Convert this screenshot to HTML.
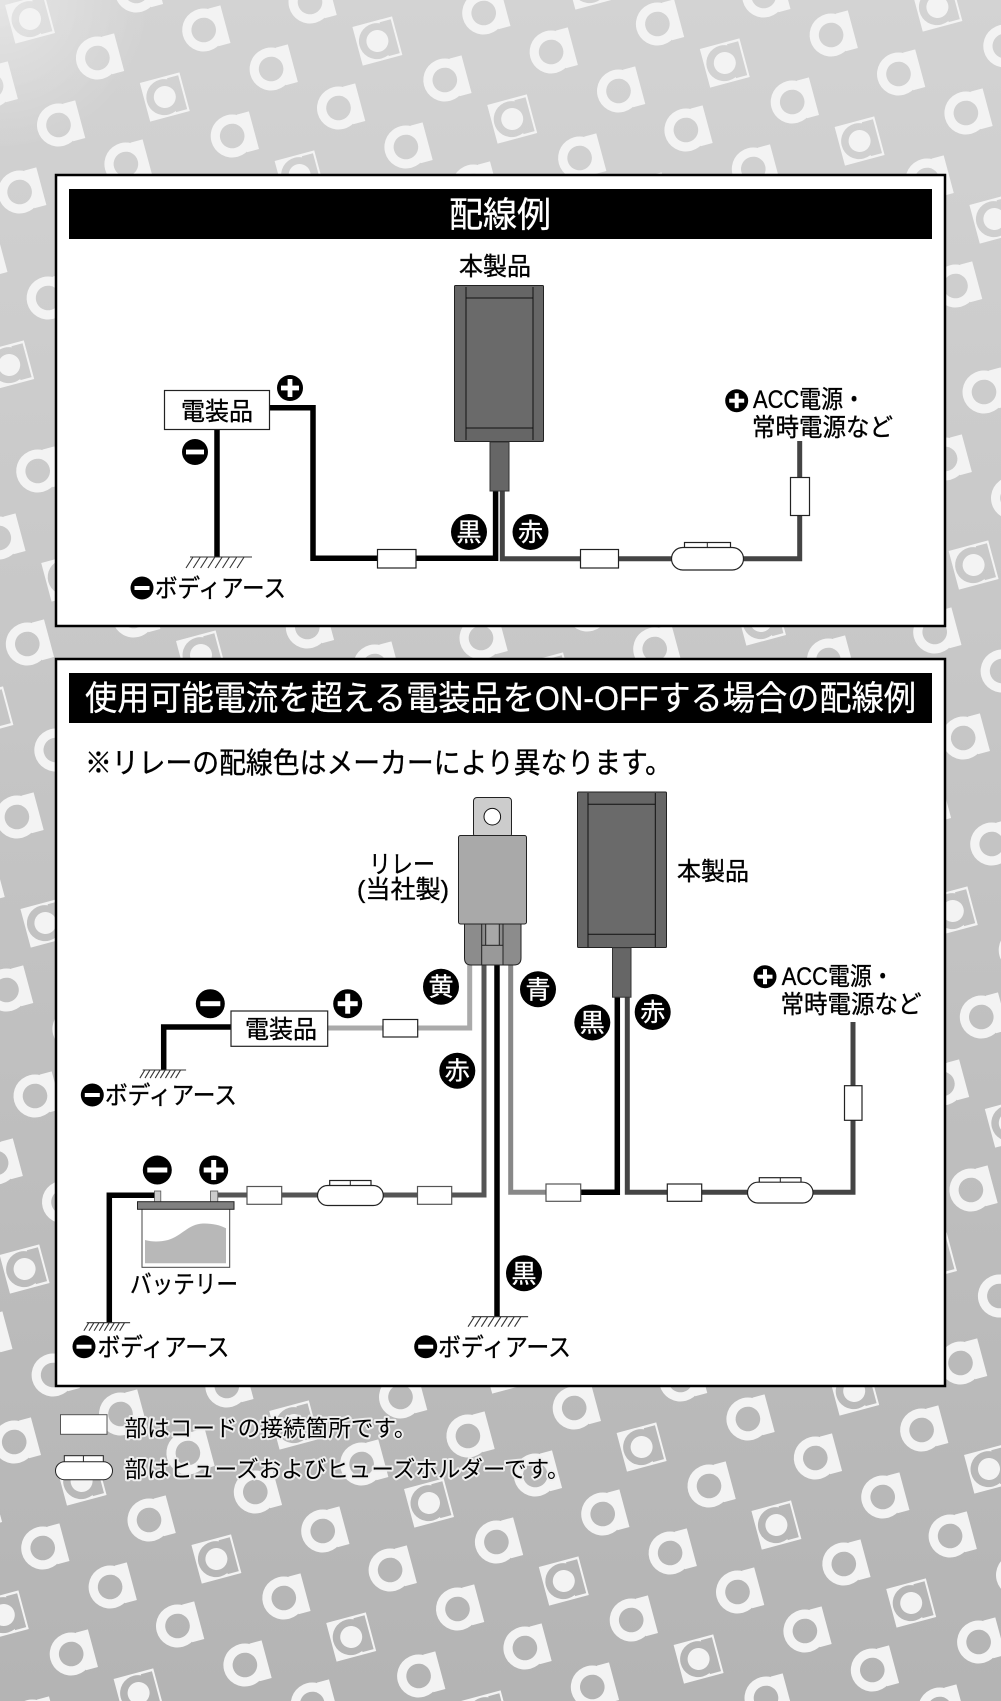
<!DOCTYPE html>
<html lang="ja">
<head>
<meta charset="utf-8">
<title>配線例</title>
<style>
html,body{margin:0;padding:0;background:#c4c4c4}
svg{display:block;position:absolute;left:0;top:0}
text{font-family:"Liberation Sans","Noto Sans CJK JP",sans-serif;fill:#000;stroke:#000;stroke-width:.35px}
text.wt{fill:#fff;stroke:#fff}
.bt{font-size:25px;text-anchor:middle}
text.halo{paint-order:stroke;stroke:#eee;stroke-width:4px;stroke-linejoin:round}
.wire{fill:none;stroke-linejoin:miter}
.box{fill:#fff;stroke:#222;stroke-width:1.2}
.grybox{fill:#fff;stroke:#555;stroke-width:1.2}
</style>
</head>
<body>
<svg xmlns="http://www.w3.org/2000/svg" width="1001" height="1701" viewBox="0 0 1001 1701">
<defs>
<linearGradient id="bg" x1="0" y1="0" x2="0" y2="1"><stop offset="0" stop-color="#d3d3d3"/><stop offset="1" stop-color="#b4b4b4"/></linearGradient>
<radialGradient id="glow" gradientUnits="userSpaceOnUse" cx="0" cy="0" r="150"><stop offset="0" stop-color="#fff" stop-opacity=".4"/><stop offset="1" stop-color="#fff" stop-opacity="0"/></radialGradient>
<g id="A" transform="rotate(-15)"><circle r="21.5" fill="#fff"/><rect x="10" y="-19.5" width="12.5" height="39" fill="#fff"/><circle r="12.3" fill="#000"/></g>
<g id="S" transform="rotate(-15)"><rect x="-20.5" y="-20" width="41" height="40" fill="#fff"/><circle cx="-.5" r="18" fill="#000"/><rect x="7" y="-17.5" width="11.5" height="35" fill="#000"/><circle r="11" fill="#fff"/></g>
<g id="c"><use href="#S"/><use href="#A" x="67.4" y="39"/><use href="#A" x="106.3" y="-28"/><use href="#A" x="173.7" y="11"/></g>
<g id="r">
<use href="#c" x="-134.8" y="-78"/><use href="#c"/><use href="#c" x="134.8" y="78"/><use href="#c" x="269.6" y="156"/><use href="#c" x="404.4" y="234"/><use href="#c" x="539.2" y="312"/><use href="#c" x="674" y="390"/><use href="#c" x="808.8" y="468"/><use href="#c" x="943.6" y="546"/><use href="#c" x="1078.4" y="624"/><use href="#c" x="1213.2" y="702"/><use href="#c" x="1348" y="780"/><use href="#c" x="1482.8" y="858"/><use href="#c" x="1617.6" y="936"/><use href="#c" x="1752.4" y="1014"/><use href="#c" x="1887.2" y="1092"/><use href="#c" x="2022" y="1170"/><use href="#c" x="2156.8" y="1248"/><use href="#c" x="2291.6" y="1326"/><use href="#c" x="2426.4" y="1404"/>
</g>
<mask id="m" maskUnits="userSpaceOnUse" x="0" y="0" width="1001" height="1701">
<g transform="translate(30 19)">
<use href="#r" x="-2126" y="560"/><use href="#r" x="-1913.4" y="504"/><use href="#r" x="-1700.8" y="448"/><use href="#r" x="-1488.2" y="392"/><use href="#r" x="-1275.6" y="336"/><use href="#r" x="-1063" y="280"/><use href="#r" x="-850.4" y="224"/><use href="#r" x="-637.8" y="168"/><use href="#r" x="-425.2" y="112"/><use href="#r" x="-212.6" y="56"/><use href="#r"/><use href="#r" x="212.6" y="-56"/><use href="#r" x="425.2" y="-112"/><use href="#r" x="637.8" y="-168"/><use href="#r" x="850.4" y="-224"/>
</g>
</mask>
<g id="pl13"><circle r="13" fill="#000"/><rect x="-9" y="-2.4" width="18" height="4.8" fill="#fff"/><rect x="-2.4" y="-9" width="4.8" height="18" fill="#fff"/></g>
<g id="mi13"><circle r="13" fill="#000"/><rect x="-9" y="-2.4" width="18" height="4.8" fill="#fff"/></g>
<g id="pl15"><circle r="14.5" fill="#000"/><rect x="-10" y="-2.5" width="20" height="5" fill="#fff"/><rect x="-2.5" y="-10" width="5" height="20" fill="#fff"/></g>
<g id="mi15"><circle r="14.5" fill="#000"/><rect x="-10" y="-2.5" width="20" height="5" fill="#fff"/></g>
<g id="pl11"><circle r="11.5" fill="#000"/><rect x="-7.5" y="-2" width="15" height="4" fill="#fff"/><rect x="-2" y="-7.5" width="4" height="15" fill="#fff"/></g>
<g id="mi11"><circle r="11.5" fill="#000"/><rect x="-7.5" y="-2" width="15" height="4" fill="#fff"/></g>
<path id="gnd" fill="none" stroke="#333" stroke-width="1.1" vector-effect="non-scaling-stroke" d="M0 0H62M-4 11L3 0M3.3 11L10.3 0M10.6 11L17.6 0M17.9 11L24.9 0M25.2 11L32.2 0M32.5 11L39.5 0M39.8 11L46.8 0M47.1 11L54.1 0"/>
<circle id="bd" r="18" fill="#000"/>
</defs>

<rect width="1001" height="1701" fill="url(#bg)"/>
<rect width="300" height="300" fill="url(#glow)"/>
<rect width="1001" height="1701" fill="#f3f3f3" mask="url(#m)"/>

<!-- Panel 1 -->
<rect x="56" y="175" width="889" height="451" fill="#fff" stroke="#000" stroke-width="2.5"/>
<rect x="69" y="189" width="863" height="50" fill="#000"/>
<text x="449" y="227" class="wt" font-size="35" textLength="102" lengthAdjust="spacingAndGlyphs">配線例</text>
<text x="459" y="275" font-size="25" textLength="72" lengthAdjust="spacingAndGlyphs">本製品</text>

<rect x="454.5" y="285.5" width="89" height="156" rx="1" fill="#666" stroke="#222" stroke-width="1"/>
<rect x="466" y="298" width="67" height="130" fill="#6a6a6a"/>
<path d="M466 287V440M533 287V440M466 298H533M466 428H533" fill="none" stroke="#111" stroke-width="1"/>
<path class="wire" stroke="#000" stroke-width="5.5" d="M269 407.7H313V558.3H498M495.6 491V561"/>
<path class="wire" stroke="#444" stroke-width="5" d="M502.3 491V558.7H799.7V441"/>
<rect x="490" y="442" width="19" height="49" fill="#666" stroke="#333" stroke-width="1"/>
<path class="wire" stroke="#000" stroke-width="5.5" d="M217 429V557"/>
<rect x="164.5" y="390.5" width="105" height="39" class="box"/>
<text x="181" y="420" font-size="25" textLength="72" lengthAdjust="spacingAndGlyphs">電装品</text>
<use href="#mi13" x="195" y="452"/>
<use href="#pl13" x="290" y="388"/>
<use href="#gnd" transform="translate(190 557)"/>
<rect x="377.5" y="549.5" width="38.5" height="18.5" class="box"/>
<use href="#bd" x="469" y="532"/><text x="469" y="541" class="bt wt">黒</text>
<use href="#bd" x="530.5" y="532"/><text x="530.5" y="541" class="bt wt">赤</text>
<use href="#mi11" x="142" y="588"/>
<text x="155" y="597" font-size="25" textLength="131" lengthAdjust="spacingAndGlyphs">ボディアース</text>
<rect x="580.5" y="549.5" width="38" height="18.5" class="box"/>
<rect x="684.5" y="542.5" width="46" height="6" class="box"/><path d="M707.3 542.5V548" stroke="#222"/>
<rect x="671.5" y="547.5" width="72" height="22.5" rx="11.2" class="box"/>
<rect x="790.5" y="477.5" width="19" height="38" class="box"/>
<use href="#pl11" x="736.7" y="400.7"/>
<text x="753" y="408" font-size="25" textLength="112" lengthAdjust="spacingAndGlyphs">ACC電源・</text>
<text x="752" y="436" font-size="25" textLength="141" lengthAdjust="spacingAndGlyphs">常時電源など</text>

<!-- Panel 2 -->
<rect x="56" y="659" width="889" height="727" fill="#fff" stroke="#000" stroke-width="2.5"/>
<rect x="69" y="673" width="863" height="50" fill="#000"/>
<text x="85" y="710" class="wt" font-size="34" textLength="831" lengthAdjust="spacingAndGlyphs">使用可能電流を超える電装品をON-OFFする場合の配線例</text>
<text x="85" y="773" font-size="29" textLength="587" lengthAdjust="spacingAndGlyphs">※リレーの配線色はメーカーにより異なります。</text>

<!-- relay wires -->
<path class="wire" stroke="#aaa" stroke-width="5" d="M327 1028H469.7V965"/>
<path class="wire" stroke="#555" stroke-width="5" d="M484 965V1195H217"/>
<path class="wire" stroke="#000" stroke-width="5.5" d="M497 965V1317"/>
<path class="wire" stroke="#888" stroke-width="5" d="M510.7 965V1192.3H546"/>
<path class="wire" stroke="#000" stroke-width="5.5" d="M580 1192.3H617.3V997"/>
<path class="wire" stroke="#444" stroke-width="5" d="M627.3 997V1192.3H853V1022"/>
<path class="wire" stroke="#000" stroke-width="5.5" d="M231 1027H163.7V1070"/>
<path class="wire" stroke="#000" stroke-width="5.5" d="M155 1195.3H109.3V1323"/>

<!-- relay -->
<rect x="473.5" y="797.5" width="38" height="40" rx="3.5" fill="#ccc" stroke="#222" stroke-width="1"/>
<circle cx="492.3" cy="816.7" r="8.3" fill="#fff" stroke="#111" stroke-width="1"/>
<path d="M464.5 924H521V958Q521 965 514 965H471Q464.5 965 464.5 958Z" fill="#8c8c8c" stroke="#222" stroke-width="1"/>
<rect x="485.7" y="924" width="13.6" height="21" fill="#a8a8a8"/>
<path d="M481.7 924V945M485.7 924V945M499.3 924V945M503 924V945" stroke="#222" stroke-width="1"/>
<rect x="481.7" y="945.3" width="21.3" height="19.7" fill="#999" stroke="#222" stroke-width="1"/>
<rect x="458.5" y="835.5" width="68" height="88.5" rx="2" fill="#a9a9a9" stroke="#222" stroke-width="1"/>
<text x="369" y="873" font-size="25" textLength="66" lengthAdjust="spacingAndGlyphs">リレー</text>
<text x="357" y="898" font-size="25" textLength="92" lengthAdjust="spacingAndGlyphs">(当社製)</text>

<!-- product 2 -->
<rect x="577.5" y="792" width="89" height="155.5" rx="1" fill="#666" stroke="#222" stroke-width="1"/>
<rect x="588" y="804.3" width="67.3" height="130" fill="#6a6a6a"/>
<path d="M588 793V947M655.3 793V947M588 804.3H655.3M588 934.3H655.3" fill="none" stroke="#111" stroke-width="1"/>
<rect x="612.5" y="947.7" width="18.5" height="49.5" fill="#666" stroke="#333" stroke-width="1"/>
<text x="677" y="880" font-size="25" textLength="72" lengthAdjust="spacingAndGlyphs">本製品</text>

<!-- device -->
<rect x="231" y="1011" width="96.7" height="35.3" class="box"/>
<text x="245" y="1038" font-size="25" textLength="72" lengthAdjust="spacingAndGlyphs">電装品</text>
<use href="#mi15" x="210.3" y="1003.7"/>
<use href="#pl15" x="347.7" y="1003.7"/>
<rect x="383" y="1019.5" width="34.7" height="17.5" class="box"/>
<use href="#gnd" transform="translate(142.7 1070) scale(.7 .73)"/>
<use href="#mi11" x="92.3" y="1095"/>
<text x="105" y="1104" font-size="25" textLength="132" lengthAdjust="spacingAndGlyphs">ボディアース</text>

<!-- battery -->
<use href="#mi15" x="157.3" y="1170"/>
<use href="#pl15" x="213.7" y="1170"/>
<rect x="154.5" y="1191" width="6.3" height="11" fill="#ccc" stroke="#555" stroke-width=".8"/>
<rect x="210.5" y="1191" width="7.3" height="11" fill="#ccc" stroke="#555" stroke-width=".8"/>
<rect x="142" y="1209" width="87.7" height="58.3" fill="#fff" stroke="#444" stroke-width="1"/>
<rect x="137.5" y="1201.7" width="96.5" height="7.6" fill="#808080" stroke="#222" stroke-width="1"/>
<path d="M145 1240C152 1242 160 1242 168 1240C182 1236 188 1224 203 1223.5C212 1223.3 220 1225 226 1228.3V1263.3H145Z" fill="#b8b8b8"/>
<rect x="247" y="1186.5" width="34.7" height="17.8" class="grybox"/>
<rect x="329.7" y="1180.5" width="41.3" height="5.5" class="box"/><path d="M350.3 1180.5V1185.5" stroke="#222"/>
<rect x="317.5" y="1185.5" width="65.8" height="20" rx="10" class="box"/>
<rect x="417.5" y="1186.5" width="34.2" height="17.8" class="grybox"/>
<text x="130" y="1293" font-size="25" textLength="108" lengthAdjust="spacingAndGlyphs">バッテリー</text>
<use href="#gnd" transform="translate(86.7 1322.7) scale(.7 .73)"/>
<use href="#mi11" x="84" y="1346.7"/>
<text x="97.5" y="1356" font-size="25" textLength="132" lengthAdjust="spacingAndGlyphs">ボディアース</text>

<!-- badges -->
<use href="#bd" x="441" y="986.7"/><text x="441" y="995.7" class="bt wt">黄</text>
<use href="#bd" x="538" y="989.3"/><text x="538" y="998.3" class="bt wt">青</text>
<use href="#bd" x="457.3" y="1070.7"/><text x="457.3" y="1079.7" class="bt wt">赤</text>
<use href="#bd" x="592.3" y="1022.5"/><text x="592.3" y="1031.5" class="bt wt">黒</text>
<use href="#bd" x="652.7" y="1012"/><text x="652.7" y="1021" class="bt wt">赤</text>
<use href="#bd" x="524" y="1273.3"/><text x="524" y="1282.3" class="bt wt">黒</text>

<!-- right of panel 2 -->
<rect x="546" y="1184" width="34.7" height="17.3" class="grybox"/>
<rect x="667.3" y="1184" width="34.4" height="17.3" class="box"/>
<rect x="759.3" y="1177.7" width="41.7" height="5" class="box"/><path d="M780.3 1177.7V1182" stroke="#222"/>
<rect x="747.5" y="1182.2" width="65.5" height="20.8" rx="10.4" class="box"/>
<rect x="844.5" y="1085.7" width="17.5" height="34.6" class="box"/>
<use href="#pl11" x="765" y="976.7"/>
<text x="781.7" y="985" font-size="25" textLength="112" lengthAdjust="spacingAndGlyphs">ACC電源・</text>
<text x="780.5" y="1013" font-size="25" textLength="141" lengthAdjust="spacingAndGlyphs">常時電源など</text>
<use href="#gnd" transform="translate(471.7 1316.7) scale(.91 .91)"/>
<use href="#mi11" x="425.7" y="1346.7"/>
<text x="438" y="1356" font-size="25" textLength="133" lengthAdjust="spacingAndGlyphs">ボディアース</text>

<!-- legend -->
<rect x="60.5" y="1414.7" width="46.5" height="19.6" fill="#fff" stroke="#555" stroke-width="1"/>
<text x="124.5" y="1436" class="halo" font-size="23" textLength="292" lengthAdjust="spacingAndGlyphs">部はコードの接続箇所です。</text>
<rect x="64.3" y="1455.7" width="39" height="6.5" fill="#fff" stroke="#222" stroke-width="1"/><path d="M83.4 1455.7V1461.7" stroke="#222"/>
<rect x="55.5" y="1461.7" width="57" height="18" rx="9" fill="#fff" stroke="#222" stroke-width="1"/>
<text x="124.5" y="1477" class="halo" font-size="23" textLength="445" lengthAdjust="spacingAndGlyphs">部はヒューズおよびヒューズホルダーです。</text>
</svg>
</body>
</html>
